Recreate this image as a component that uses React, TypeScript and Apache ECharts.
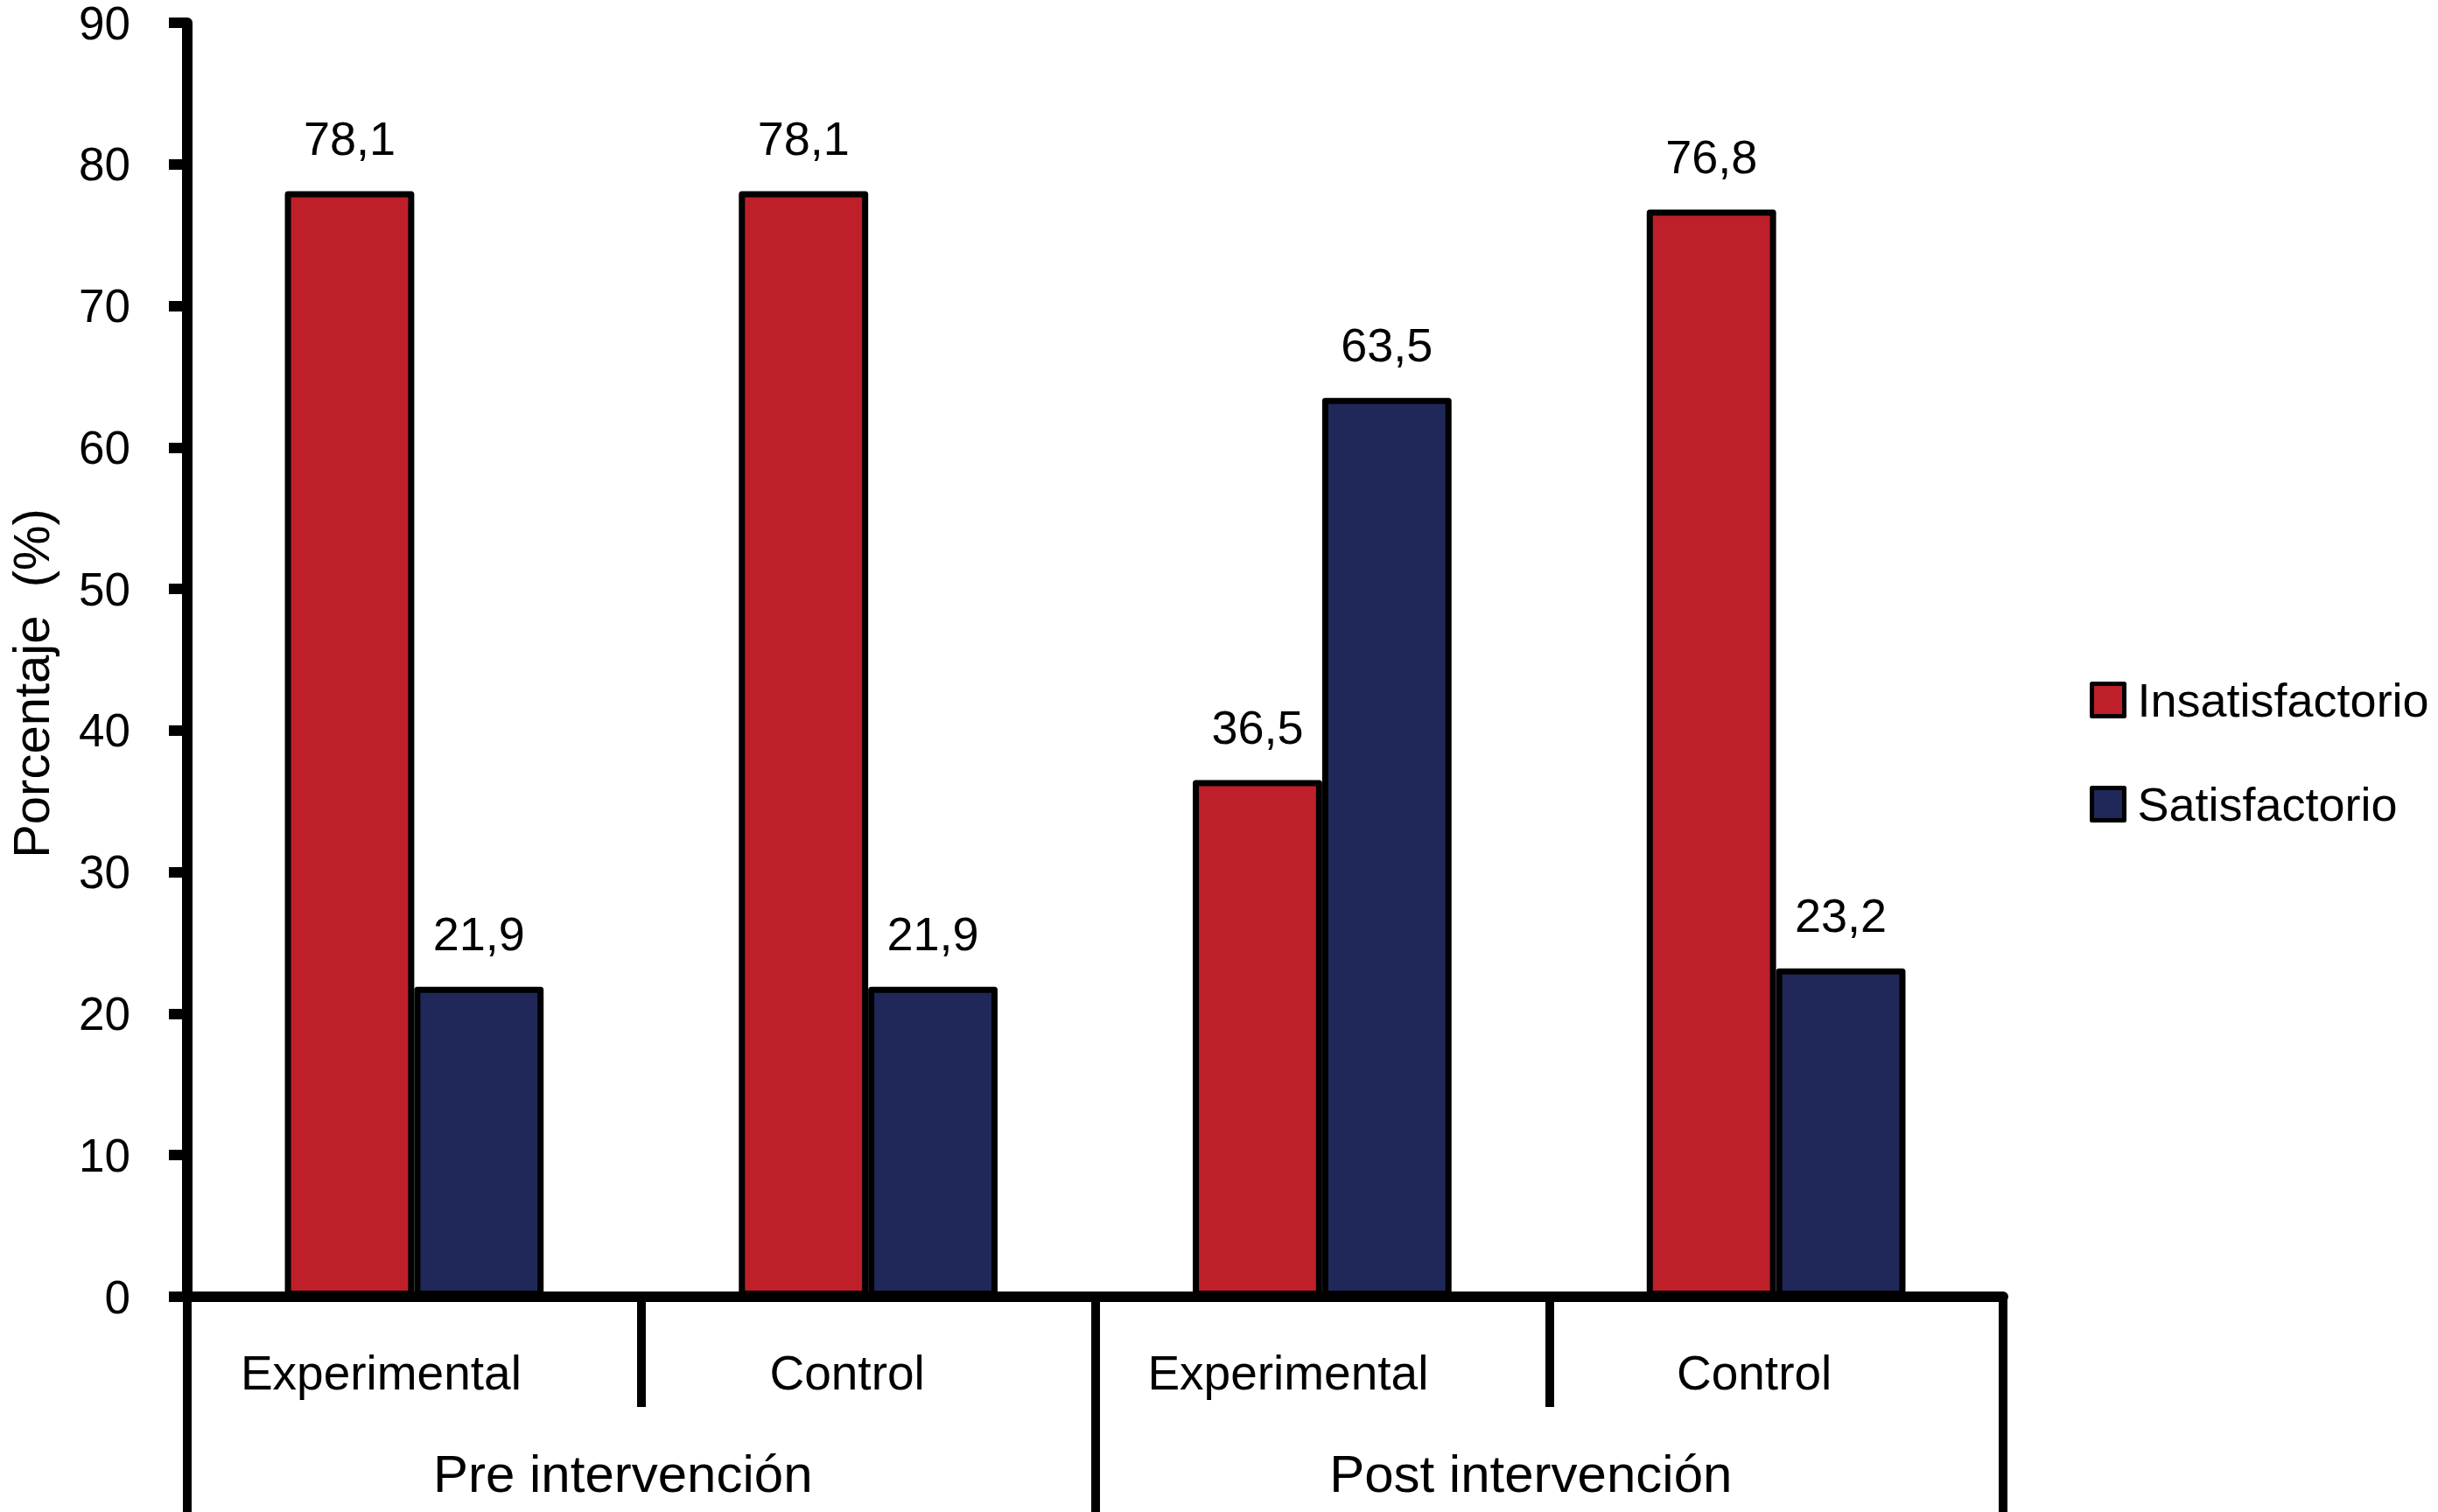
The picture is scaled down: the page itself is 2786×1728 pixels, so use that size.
import React, { useEffect, useRef } from "react";
import * as echarts from "echarts";

const groups = ["Pre intervención", "Post intervención"];
const categories = ["Experimental", "Control", "Experimental", "Control"];
const insatisfactorio = [78.1, 78.1, 36.5, 76.8];
const satisfactorio = [21.9, 21.9, 63.5, 23.2];
const seriesNames = ["Insatisfactorio", "Satisfactorio"];
const yTicks = { min: 0, max: 90, interval: 10 };
const yName = "Porcentaje  (%)";

const FONT = "'Liberation Sans', Arial, Helvetica, sans-serif";
const RED = "#BE1F28";
const NAVY = "#1F2859";

export default function App() {
  const ref = useRef<HTMLDivElement>(null);
  useEffect(() => {
    document.body.style.margin = "0";
    const chart = echarts.init(ref.current!, null, { renderer: "svg" });
    const labelShift = [76, 48, 78, 50];
    const barStyle = (color: string) => ({
      color,
      borderColor: "#000",
      borderWidth: 7,
      borderJoin: "round",
    });
    const fmt = (p: any) => String(p.value).replace(".", ",");
    chart.setOption({
      animation: false,
      backgroundColor: "#fff",
      textStyle: { fontFamily: FONT },
      grid: {
        left: 214,
        right: 497,
        top: 26,
        bottom: 246,
        containLabel: false,
        outerBoundsMode: "none",
      },
      legend: {
        orient: "vertical",
        left: 2388,
        top: 773,
        padding: 0,
        itemWidth: 37,
        itemHeight: 37,
        itemGap: 65,
        icon: "rect",
        itemStyle: { borderColor: "#000", borderWidth: 5 },
        textStyle: {
          fontFamily: FONT,
          fontSize: 54,
          lineHeight: 54,
          color: "#000",
          padding: [0, 0, 0, 10],
        },
        data: seriesNames,
      },
      xAxis: [
        {
          type: "category",
          position: "bottom",
          data: categories.map((c, i) => ({
            value: c,
            textStyle: { padding: [0, labelShift[i], 0, 0] },
          })),
          axisLine: { show: true, lineStyle: { color: "#000", width: 12 } },
          axisTick: {
            show: true,
            interval: 0,
            length: 126,
            lineStyle: { color: "#000", width: 10 },
          },
          axisLabel: {
            interval: 0,
            margin: 59,
            fontSize: 55,
            lineHeight: 55,
            color: "#000",
            fontFamily: FONT,
          },
          splitLine: { show: false },
        },
        {
          type: "category",
          position: "bottom",
          offset: 0,
          data: groups,
          axisLine: { show: false },
          axisTick: {
            show: true,
            interval: 0,
            length: 246,
            lineStyle: { color: "#000", width: 10 },
          },
          axisLabel: {
            interval: 0,
            margin: 172,
            fontSize: 60,
            lineHeight: 60,
            color: "#000",
            fontFamily: FONT,
            padding: [0, 42, 0, 0],
          },
          splitLine: { show: false },
        },
      ],
      yAxis: {
        type: "value",
        min: yTicks.min,
        max: yTicks.max,
        interval: yTicks.interval,
        axisLine: { show: true, lineStyle: { color: "#000", width: 12 } },
        axisTick: { show: true, length: 21, lineStyle: { color: "#000", width: 12 } },
        axisLabel: {
          margin: 65,
          fontSize: 53,
          lineHeight: 48,
          color: "#000",
          fontFamily: FONT,
        },
        splitLine: { show: false },
      },
      graphic: [
        {
          type: "text",
          x: 35,
          y: 781,
          rotation: Math.PI / 2,
          style: {
            text: yName,
            fontSize: 58,
            fontFamily: FONT,
            fill: "#000",
            align: "center",
            verticalAlign: "middle",
          },
        },
      ],
      series: [
        {
          name: seriesNames[0],
          type: "bar",
          data: insatisfactorio,
          barGap: "0%",
          barCategoryGap: "43%",
          itemStyle: barStyle(RED),
          label: {
            show: true,
            position: "top",
            distance: 34,
            fontSize: 54,
            lineHeight: 54,
            color: "#000",
            fontFamily: FONT,
            formatter: fmt,
          },
        },
        {
          name: seriesNames[1],
          type: "bar",
          data: satisfactorio,
          barGap: "0%",
          barCategoryGap: "43%",
          itemStyle: barStyle(NAVY),
          label: {
            show: true,
            position: "top",
            distance: 34,
            fontSize: 54,
            lineHeight: 54,
            color: "#000",
            fontFamily: FONT,
            formatter: fmt,
          },
        },
      ],
    });
    return () => chart.dispose();
  }, []);
  return <div ref={ref} style={{ width: 2786, height: 1728 }} />;
}
